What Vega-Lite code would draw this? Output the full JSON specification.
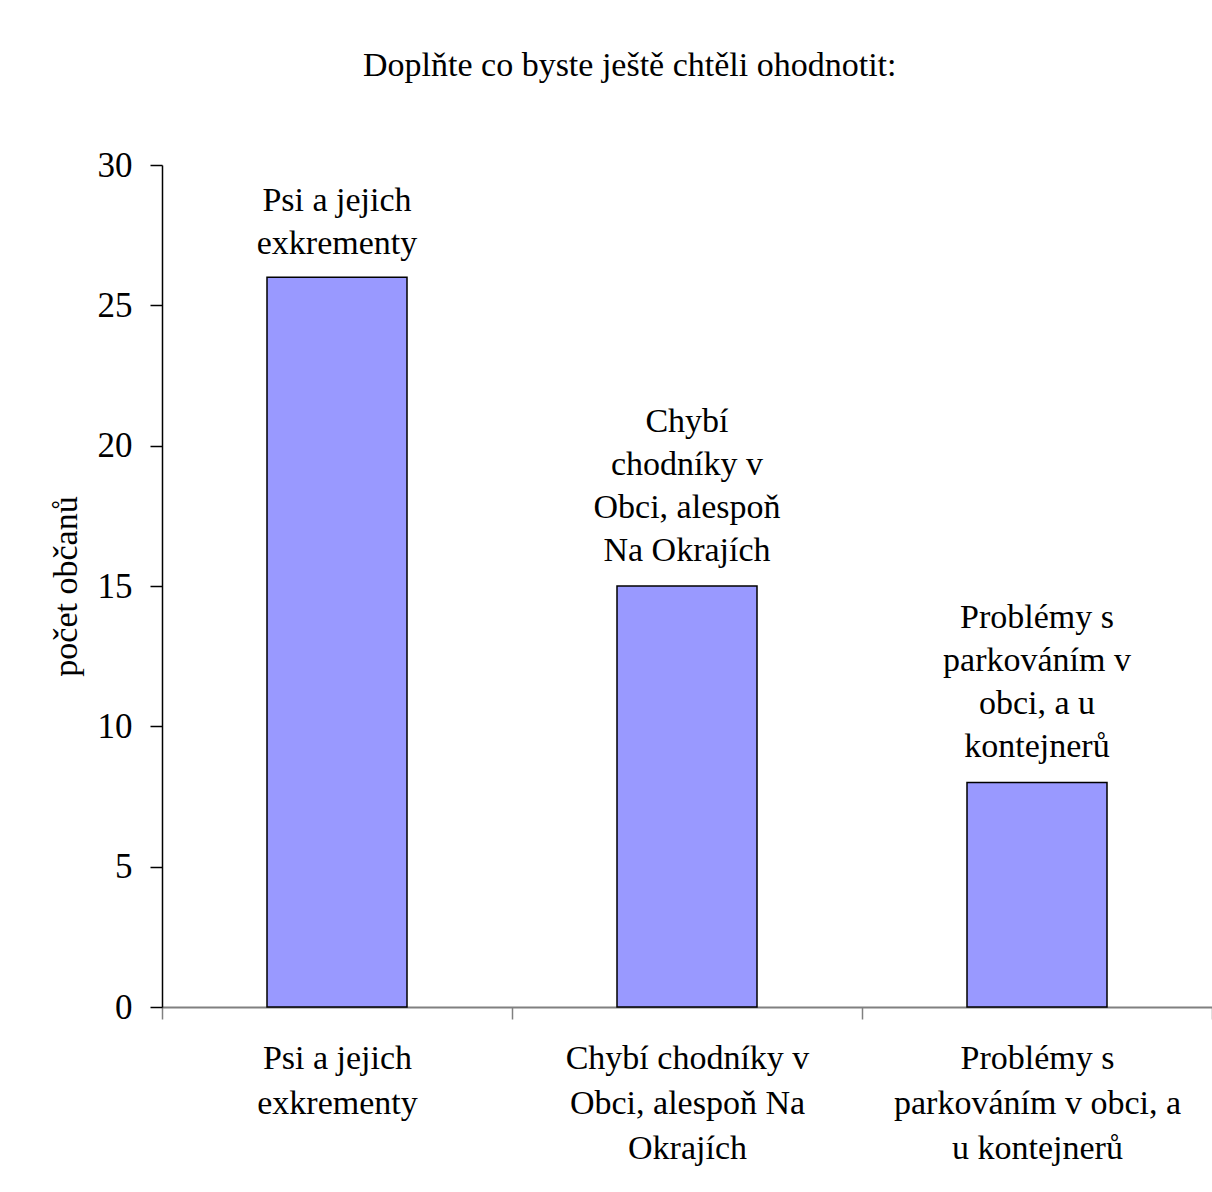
{
  "$schema": "https://vega.github.io/schema/vega-lite/v6.json",
  "width": 1050,
  "height": 842,
  "autosize": {"type": "none"},
  "padding": {"left": 162, "top": 165, "right": 0, "bottom": 185},
  "background": "white",
  "title": {
    "text": "Doplňte co byste ještě chtěli ohodnotit:",
    "font": "Liberation Serif",
    "fontSize": 34,
    "fontWeight": "normal",
    "color": "black",
    "anchor": "start",
    "frame": "group",
    "offset": 65,
    "dx": 201
  },
  "config": {
    "view": {"stroke": null},
    "font": "Liberation Serif"
  },
  "data": {
    "values": [
      {"kategorie": "Psi a jejich exkrementy", "pocet": 26, "popisek": "Psi a jejich|exkrementy", "radku": 2},
      {"kategorie": "Chybí chodníky v Obci, alespoň Na Okrajích", "pocet": 15, "popisek": "Chybí|chodníky v|Obci, alespoň|Na Okrajích", "radku": 4},
      {"kategorie": "Problémy s parkováním v obci, a u kontejnerů", "pocet": 8, "popisek": "Problémy s|parkováním v|obci, a u|kontejnerů", "radku": 4}
    ]
  },
  "encoding": {
    "x": {
      "field": "kategorie",
      "type": "nominal",
      "sort": null,
      "scale": {"paddingInner": 0, "paddingOuter": 0},
      "axis": {
        "title": null,
        "labelAngle": 0,
        "labelFont": "Liberation Serif",
        "labelFontSize": 34,
        "labelColor": "black",
        "labelLineHeight": 45,
        "labelBaseline": "top",
        "labelPadding": 22,
        "labelLimit": 500,
        "labelExpr": "datum.value == 'Psi a jejich exkrementy' ? ['Psi a jejich', 'exkrementy'] : datum.value == 'Chybí chodníky v Obci, alespoň Na Okrajích' ? ['Chybí chodníky v', 'Obci, alespoň Na', 'Okrajích'] : datum.value == 'Problémy s parkováním v obci, a u kontejnerů' ? ['Problémy s', 'parkováním v obci, a', 'u kontejnerů'] : ''",
        "tickBand": "extent",
        "tickSize": 12,
        "tickColor": "#808080",
        "tickWidth": 1.5,
        "domainColor": "#808080",
        "domainWidth": 2
      }
    },
    "y": {
      "field": "pocet",
      "type": "quantitative",
      "scale": {"domain": [0, 30], "nice": false},
      "axis": {
        "title": "počet občanů",
        "titleFont": "Liberation Serif",
        "titleFontSize": 34,
        "titleFontWeight": "normal",
        "titleColor": "black",
        "titlePadding": 14,
        "values": [0, 5, 10, 15, 20, 25, 30],
        "grid": false,
        "labelFont": "Liberation Serif",
        "labelFontSize": 35,
        "labelColor": "black",
        "labelPadding": 18,
        "tickSize": 12,
        "tickColor": "black",
        "tickWidth": 1.5,
        "domainColor": "black",
        "domainWidth": 1.5
      }
    }
  },
  "layer": [
    {
      "mark": {"type": "bar", "width": {"band": 0.4}, "fill": "#9999FF", "stroke": "black", "strokeWidth": 1.5}
    },
    {
      "transform": [{"filter": "datum.radku == 2"}],
      "mark": {"type": "text", "font": "Liberation Serif", "fontSize": 34, "color": "black", "lineBreak": "|", "lineHeight": 43, "baseline": "alphabetic", "dy": -66},
      "encoding": {"text": {"field": "popisek"}}
    },
    {
      "transform": [{"filter": "datum.radku == 4"}],
      "mark": {"type": "text", "font": "Liberation Serif", "fontSize": 34, "color": "black", "lineBreak": "|", "lineHeight": 43, "baseline": "alphabetic", "dy": -154},
      "encoding": {"text": {"field": "popisek"}}
    }
  ]
}
